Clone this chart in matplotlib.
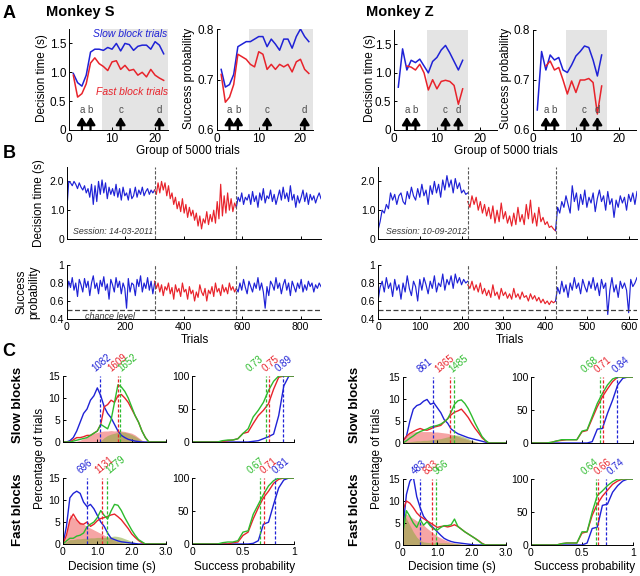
import numpy as np
import matplotlib
matplotlib.use("Agg")
import matplotlib.pyplot as plt
from matplotlib.transforms import blended_transform_factory

plt.rcParams["font.family"] = ["Liberation Sans", "DejaVu Sans"]

BLUE = "#1f22d6"
RED = "#e8232b"
GREEN = "#2dbb2d"
PINK = "#f6a5a5"
OLIVE = "#8aaa3c"
W, H = 640, 576

# ---------------- A: group of 5000 trials ----------------
groups_s = np.arange(1, 23)
s_dt_slow = [0.98, 0.82, 0.76, 0.95, 1.35, 1.40, 1.40, 1.38, 1.43, 1.40, 1.50, 1.37,
             1.50, 1.48, 1.38, 1.45, 1.47, 1.47, 1.40, 1.53, 1.47, 1.32]
s_dt_fast = [0.95, 0.57, 0.63, 0.80, 1.16, 1.25, 1.15, 1.10, 1.03, 1.18, 1.20, 1.05,
             1.12, 1.03, 1.05, 0.95, 1.00, 0.92, 1.05, 0.95, 0.90, 0.86]
s_sp_slow = [0.72, 0.685, 0.69, 0.71, 0.765, 0.77, 0.775, 0.775, 0.78, 0.785, 0.785, 0.765,
             0.78, 0.77, 0.758, 0.78, 0.78, 0.762, 0.785, 0.80, 0.785, 0.775]
s_sp_fast = [0.71, 0.655, 0.665, 0.69, 0.75, 0.745, 0.74, 0.73, 0.725, 0.755, 0.75, 0.72,
             0.73, 0.72, 0.73, 0.725, 0.73, 0.715, 0.735, 0.74, 0.72, 0.712]
s_arrows = [3, 5, 12, 21]

groups_z = np.arange(1, 17)
z_dt_slow = [0.75, 1.42, 1.05, 1.22, 1.18, 1.24, 1.12, 1.00, 1.20, 1.27, 1.40, 1.48,
             1.35, 1.20, 1.05, 1.22]
z_dt_fast = [np.nan, np.nan, 1.12, 1.10, 1.05, 1.15, 1.00, 0.70, 0.88, 0.72, 0.85, 0.87,
             0.85, 0.78, 0.45, 0.72]
z_sp_slow = [0.64, 0.757, 0.72, 0.75, 0.74, 0.745, 0.72, 0.715, 0.73, 0.748, 0.757, 0.768,
             0.765, 0.74, 0.708, 0.75]
z_sp_fast = [np.nan, np.nan, 0.728, 0.738, 0.72, 0.725, 0.70, 0.672, 0.698, 0.675, 0.70, 0.70,
             0.703, 0.695, 0.632, 0.688]
z_arrows = [3, 5, 12, 15]
arrow_letters = ["a", "b", "c", "d"]

# ---------------- B: single sessions ----------------
s_switch = [0, 300, 580, 870]
s_dt_b1 = [1.1, 2.0, 1.95, 1.85, 2.0, 1.9, 1.75, 1.95, 1.8, 1.7, 1.85, 1.6, 1.75, 1.45, 1.9, 1.2,
           1.85, 1.3, 2.0, 1.55, 2.05, 1.6, 1.95, 1.4, 1.8, 1.55, 1.75, 1.5, 1.9, 1.45, 1.75, 1.35,
           1.8, 1.5, 1.6, 1.35, 1.75, 1.4, 1.5, 1.8, 1.45, 1.7, 1.55, 1.8, 1.5, 1.65, 1.75, 1.55,
           1.7, 1.6, 1.7]
s_dt_b2 = [1.7, 1.55, 1.95, 1.6, 2.0, 1.7, 1.95, 1.5, 1.85, 1.4, 1.6, 1.2, 1.45, 1.05, 1.3, 0.95,
           1.4, 0.9, 1.2, 0.75, 1.1, 0.8, 1.0, 0.65, 0.9, 0.45, 0.8, 0.35, 0.7, 0.55, 0.95, 0.5,
           0.85, 0.6, 1.0, 0.55, 1.3, 0.7, 1.9, 0.8, 1.5, 0.9, 1.6, 1.0, 1.4, 0.95, 1.25, 1.1]
s_dt_b3 = [1.1, 1.45, 1.3, 1.6, 1.2, 1.45, 1.35, 1.55, 1.2, 1.65, 1.3, 1.5, 1.1, 1.6, 1.35, 1.75,
           1.25, 1.5, 1.4, 1.7, 1.3, 1.55, 1.2, 1.45, 1.7, 1.35, 1.8, 1.4, 1.6, 1.3, 1.85, 1.35,
           1.55, 1.1, 1.5, 1.25, 1.45, 1.7, 1.3, 1.6, 1.2, 1.55, 1.35, 1.5, 1.25, 1.45, 1.6, 1.4]
s_sp_b1 = [0.7, 0.82, 0.75, 0.86, 0.72, 0.8, 0.65, 0.84, 0.78, 0.7, 0.85, 0.75, 0.82, 0.66, 0.8,
           0.88, 0.74, 0.8, 0.68, 0.83, 0.76, 0.87, 0.72, 0.79, 0.62, 0.84, 0.78, 0.7, 0.86, 0.75,
           0.82, 0.68, 0.8, 0.74, 0.52, 0.85, 0.7, 0.8, 0.78, 0.66, 0.84, 0.76, 0.88, 0.7, 0.8,
           0.74, 0.86, 0.72, 0.82, 0.68, 0.8]
s_sp_b2 = [0.82, 0.74, 0.8, 0.7, 0.78, 0.66, 0.76, 0.72, 0.8, 0.68, 0.75, 0.62, 0.78, 0.7, 0.74,
           0.65, 0.8, 0.7, 0.73, 0.62, 0.76, 0.68, 0.72, 0.6, 0.7, 0.64, 0.78, 0.7, 0.66, 0.74,
           0.6, 0.72, 0.68, 0.76, 0.65, 0.8, 0.7, 0.74, 0.66, 0.78, 0.7, 0.75, 0.68, 0.8, 0.72,
           0.76, 0.7, 0.74]
s_sp_b3 = [0.74, 0.7, 0.8, 0.72, 0.84, 0.75, 0.68, 0.82, 0.76, 0.7, 0.8, 0.74, 0.86, 0.72, 0.8,
           0.7, 0.52, 0.76, 0.66, 0.82, 0.78, 0.72, 0.86, 0.74, 0.8, 0.68, 0.78, 0.84, 0.72, 0.8,
           0.66, 0.82, 0.76, 0.7, 0.8, 0.74, 0.84, 0.7, 0.78, 0.72, 0.82, 0.76, 0.8, 0.7, 0.78,
           0.74, 0.8, 0.76]

z_switch = [0, 215, 425, 620]
z_dt_b1 = [0.3, 0.6, 1.0, 0.9, 1.2, 1.05, 1.6, 1.35, 1.55, 1.2, 1.5, 1.6, 1.3, 1.2, 1.65, 1.4,
           1.8, 1.5, 1.35, 1.75, 1.45, 1.9, 1.5, 1.7, 1.2, 1.85, 1.55, 2.0, 1.6, 1.9, 1.45, 2.05,
           1.7, 2.2, 1.8, 2.05, 1.6, 2.1, 1.75, 1.95, 1.6, 1.7, 1.55, 1.6]
z_dt_b2 = [1.3, 1.1, 1.5, 1.2, 1.45, 1.0, 1.3, 0.9, 1.2, 0.8, 1.1, 0.7, 1.15, 0.55, 1.0, 0.6,
           1.25, 0.7, 0.95, 0.55, 0.8, 0.45, 0.9, 0.5, 1.1, 0.6, 0.85, 0.5, 1.2, 0.7, 1.35, 0.55,
           0.9, 0.45, 1.1, 0.6, 0.75, 0.5, 0.6, 0.4, 0.45, 0.35, 0.28]
z_dt_b3 = [0.3, 1.1, 0.9, 1.3, 1.1, 1.5, 1.2, 0.9, 1.85, 1.3, 1.6, 1.0, 1.55, 1.2, 1.7, 1.1,
           1.45, 1.25, 1.6, 0.95, 1.4, 1.7, 1.3, 1.5, 1.0, 1.65, 1.2, 1.4, 0.75, 1.35, 1.1, 1.5,
           1.25, 1.45, 1.0, 1.55, 1.3, 1.6, 1.2, 1.65]
z_sp_b1 = [0.6, 0.75, 0.82, 0.7, 0.86, 0.74, 0.8, 0.65, 0.84, 0.72, 0.78, 0.62, 0.8, 0.7, 0.88,
           0.74, 0.66, 0.82, 0.76, 0.6, 0.84, 0.72, 0.86, 0.78, 0.68, 0.82, 0.74, 0.88, 0.7, 0.8,
           0.76, 0.9, 0.72, 0.84, 0.78, 0.88, 0.74, 0.9, 0.8, 0.86, 0.78, 0.84, 0.8, 0.82]
z_sp_b2 = [0.78, 0.74, 0.82, 0.72, 0.78, 0.7, 0.8, 0.68, 0.74, 0.66, 0.72, 0.64, 0.78, 0.66, 0.7,
           0.62, 0.74, 0.66, 0.7, 0.63, 0.68, 0.62, 0.74, 0.64, 0.68, 0.62, 0.7, 0.64, 0.66, 0.6,
           0.68, 0.62, 0.66, 0.6, 0.64, 0.58, 0.62, 0.57, 0.6, 0.56, 0.6, 0.58, 0.6]
z_sp_b3 = [0.6, 0.75, 0.68, 0.82, 0.7, 0.78, 0.64, 0.8, 0.72, 0.86, 0.74, 0.8, 0.68, 0.84, 0.76,
           0.7, 0.82, 0.74, 0.86, 0.72, 0.8, 0.66, 0.84, 0.74, 0.8, 0.45, 0.72, 0.86, 0.7, 0.78,
           0.64, 0.82, 0.74, 0.8, 0.72, 0.47, 0.84, 0.76, 0.8, 0.86]

# ---------------- C: distributions ----------------
dt_bins = np.round(np.arange(0, 3.01, 0.1), 1)
sp_bins = np.round(np.arange(0, 1.001, 0.05), 2)

s_slow_dt_blue = [0, 0, 0.3, 1, 2.5, 4.5, 6.5, 7.5, 9.5, 10.5, 12.3, 10.5, 8, 6.5, 5.5, 4, 2.5,
                  1.5, 1, 0.6, 0.4, 0.2, 0.1]
s_slow_dt_red = [0, 0, 0, 0.5, 1, 1, 1.2, 1.5, 1.5, 2, 2.5, 4, 8, 8.5, 9.5, 9, 10.5, 10.8, 10,
                 9, 7.5, 6, 4.5, 2.5, 1, 0]
s_slow_dt_green = [0, 0, 0, 0.2, 0.4, 0.6, 0.8, 1, 1.5, 2, 2.5, 4, 3.5, 3, 5, 9, 13, 12.5, 11.5,
                   10, 8, 6, 4.5, 2.5, 1, 0]
s_slow_fill_red = [0, 0, 0, 0, 0.2, 0.4, 0.8, 1.2, 1.6, 2, 2.2, 2.4, 2.5, 2.5, 2.6, 2.5, 2.6,
                   2.5, 2.4, 2.2, 2, 1.6, 1, 0.4, 0.1, 0]
s_slow_fill_green = [0, 0, 0, 0, 0, 0, 0, 0, 0, 0, 0, 0.3, 1, 1.5, 1.8, 2, 2.2, 2.3, 2.2, 2, 1.7,
                     1.3, 0.8, 0.3, 0]
s_slow_dt_means = [1082, 1609, 1652]

s_fast_dt_blue = [0, 4, 10.5, 11.5, 12, 11.5, 9.5, 8.5, 9, 8, 6.5, 5, 4, 2.5, 1.3, 1, 0.7, 0.5,
                  0.4, 0.3, 0.2, 0.1, 0]
s_fast_dt_red = [0, 2, 5.5, 6.8, 5.5, 4.6, 4.5, 5, 4, 4.5, 5.3, 5.8, 6, 6.3, 6.6, 6.8, 6.2, 5.5,
                 4.5, 3.5, 2.3, 1.5, 0.8, 0.3, 0]
s_fast_dt_green = [0, 0.7, 1.3, 1.3, 1.8, 2, 2.5, 3.9, 4.5, 5, 6, 7.6, 6.5, 5.7, 7.5, 9, 8.8, 7.6,
                   6, 4.6, 3.2, 2, 1, 0.5, 0]
s_fast_fill_red = [0, 2, 6.7, 6, 5.5, 5, 4.5, 4, 3.6, 3.2, 2.8, 2.4, 2, 1.6, 1.2, 0.8, 0.5, 0.3,
                   0.1, 0]
s_fast_fill_green = [0, 0.5, 1, 1, 1.2, 1.2, 1.3, 1.3, 1.4, 1.4, 1.5, 1.5, 1.5, 1.6, 1.7, 1.8,
                     1.7, 1.5, 1.2, 0.9, 0.6, 0.3, 0.1, 0]
s_fast_dt_means = [696, 1131, 1279]

z_slow_dt_blue = [0.5, 1.5, 5, 7.7, 8.5, 8.8, 9.5, 9.9, 8.8, 9.1, 8, 6.9, 5.3, 4.5, 3.2, 2.6,
                  2.1, 1.8, 1.5, 1.2, 1, 0.8, 0.6, 0.4, 0.2, 0]
z_slow_dt_red = [0.5, 1.5, 2.2, 2.6, 3, 3.3, 3, 2.9, 3.2, 3.6, 3.8, 4, 4.8, 5.5, 6.4, 7, 7.3, 7.7,
                 6.8, 5.8, 4.5, 3.3, 2.3, 1.2, 0.5, 0]
z_slow_dt_green = [0, 0.5, 1.1, 1.6, 2.2, 2.6, 2.9, 3.2, 3.6, 3.8, 4, 4.3, 4.8, 5.5, 7, 8.8, 9.6,
                   9.8, 9, 7.8, 6.2, 4.5, 3, 1.5, 0.6, 0]
z_slow_fill_red = [0.5, 1.5, 2.3, 2.5, 2.6, 2.6, 2.6, 2.6, 2.6, 2.5, 2.5, 2.4, 2.3, 2.2, 2, 1.8,
                   1.5, 1.2, 1, 0.7, 0.5, 0.3, 0.1, 0]
z_slow_fill_green = [0, 0.2, 0.3, 0.4, 0.5, 0.5, 0.6, 0.6, 0.7, 0.8, 0.9, 1, 1.2, 1.4, 1.6, 1.8,
                     1.8, 1.6, 1.3, 1, 0.6, 0.3, 0.1, 0]
z_slow_dt_means = [861, 1365, 1485]

z_fast_dt_blue = [4, 11.5, 14.5, 15.5, 11, 8.5, 6.5, 5.5, 4.5, 3.8, 3, 2.2, 1.5, 1.1, 0.8, 0.6,
                  0.5, 0.4, 0.3, 0.2, 0.1, 0]
z_fast_dt_red = [8, 10, 9.5, 8.5, 7.3, 6.5, 6, 5.5, 5, 4.5, 4, 4.2, 4.3, 4.1, 4.3, 4.6, 4.2, 3.6,
                 3, 2.5, 2, 1.5, 1, 0.4, 0]
z_fast_dt_green = [3, 7.8, 6.5, 5, 4, 5.8, 4.5, 5.3, 4.3, 3.6, 3.4, 4, 4.4, 4.4, 4.6, 5.9, 4.2,
                   3.6, 3, 2.5, 2, 1.5, 0.9, 0.3, 0]
z_fast_fill_red = [7.5, 7, 6.5, 6, 5.5, 5, 4.5, 3.8, 3.2, 2.6, 2, 1.6, 1.2, 0.9, 0.6, 0.4, 0.3,
                   0.2, 0.1, 0]
z_fast_fill_green = [7.5, 6, 4.5, 3, 1.8, 1, 0.7, 0.6, 0.5, 0.5, 0.5, 0.5, 0.5, 0.5, 0.4, 0.4,
                     0.3, 0.2, 0.1, 0]
z_fast_dt_means = [483, 833, 966]

s_slow_sp_blue = [0, 0, 0, 0, 0, 0, 0, 0, 0, 0, 0, 0, 1, 2, 5, 8, 12, 40, 85, 100, 100]
s_slow_sp_red = [0, 0, 0, 0, 0, 0, 1, 2, 3, 5, 13, 15, 28, 40, 48, 58, 80, 98, 100, 100, 100]
s_slow_sp_green = [0, 0, 0, 0, 0, 0, 2, 3, 3, 5, 13, 20, 38, 48, 60, 78, 92, 100, 100, 100, 100]
s_slow_sp_means = [0.89, 0.75, 0.73]

s_fast_sp_blue = [0, 0, 0, 0, 0, 0, 0, 0, 0, 0, 0, 0, 1, 5, 30, 33, 60, 85, 97, 100, 100]
s_fast_sp_red = [0, 0, 0, 0, 0, 0, 0, 0, 2, 3, 13, 18, 38, 55, 70, 80, 92, 98, 100, 100, 100]
s_fast_sp_green = [0, 0, 0, 0, 0, 0, 2, 3, 3, 5, 18, 20, 45, 60, 75, 88, 96, 100, 100, 100, 100]
s_fast_sp_means = [0.81, 0.71, 0.67]

z_slow_sp_blue = [0, 0, 0, 0, 0, 0, 0, 0, 0, 0, 0, 0, 2, 21, 22, 45, 65, 88, 98, 100, 100]
z_slow_sp_red = [0, 0, 0, 0, 1, 3, 4, 5, 5, 5, 17, 19, 37, 55, 70, 82, 93, 100, 100, 100, 100]
z_slow_sp_green = [0, 0, 0, 0, 1, 3, 5, 5, 5, 5, 18, 20, 40, 60, 75, 88, 97, 100, 100, 100, 100]
z_slow_sp_means = [0.84, 0.71, 0.68]

z_fast_sp_blue = [0, 0, 0, 0, 0, 0, 0, 0, 0, 0, 0, 3, 25, 27, 60, 62, 80, 90, 97, 100, 100]
z_fast_sp_red = [0, 0, 0, 0, 0, 0, 2, 3, 3, 3, 18, 20, 45, 62, 74, 83, 92, 97, 100, 100, 100]
z_fast_sp_green = [0, 0, 0, 0, 0, 0, 2, 3, 3, 3, 20, 20, 50, 75, 82, 90, 96, 100, 100, 100, 100]
z_fast_sp_means = [0.74, 0.66, 0.64]


def pad(v, n):
    return np.array(list(v) + [0] * (n - len(v)), dtype=float)


fig = plt.figure(figsize=(6.4, 5.76), dpi=100)
fig.patch.set_facecolor("white")


def add_ax(l, t, r, b):
    ax = fig.add_axes([l / W, 1 - b / H, (r - l) / W, (b - t) / H])
    ax.spines[["top", "right"]].set_visible(False)
    for s in ("left", "bottom"):
        ax.spines[s].set_linewidth(0.7)
    ax.tick_params(direction="in", length=2.5, width=0.7, labelsize=7.5, pad=2)
    ax.patch.set_alpha(0)
    return ax


def ftext(x, y, s, **kw):
    fig.text(x / W, 1 - y / H, s, **kw)


def draw_arrows(ax, positions):
    trans = blended_transform_factory(ax.transData, ax.transAxes)
    for letter, p in zip(arrow_letters, positions):
        ax.annotate("", xy=(p, 0.13), xytext=(p, 0.0), xycoords=trans, textcoords=trans,
                    arrowprops=dict(arrowstyle="-|>,head_length=0.45,head_width=0.28",
                                    color="k", lw=1.6, shrinkA=0, shrinkB=0))
        ax.text(p, 0.2, letter, transform=trans, ha="center", va="center",
                fontsize=7, color="0.3")


def panel_a(rect, x, slow, fast, ylim, yticks, yticklabels, xmax, shade, arrows):
    ax = add_ax(*rect)
    ax.axvspan(shade[0], shade[1], color="#e4e4e4", lw=0, zorder=0)
    ax.plot(x, slow, color=BLUE, lw=1.1)
    ax.plot(x, fast, color=RED, lw=1.1)
    ax.set_xlim(0, xmax)
    ax.set_ylim(*ylim)
    ax.set_xticks([0, 10, 20])
    ax.set_yticks(yticks)
    ax.set_yticklabels(yticklabels)
    ax.tick_params(labelsize=8.5)
    draw_arrows(ax, arrows)
    return ax


# ---- A
dt_ticks = [0, 0.5, 1.0, 1.5]
dt_labels = ["0", "0.5", "1.0", "1.5"]
sp_ticks = [0.6, 0.7, 0.8]
sp_labels = ["0.6", "0.7", "0.8"]
ax = panel_a((69, 29, 168, 130), groups_s, s_dt_slow, s_dt_fast, (0, 1.75), dt_ticks,
             dt_labels, 23, (7.6, 23), s_arrows)
ax.text(0.99, 0.95, "Slow block trials", transform=ax.transAxes, ha="right", va="center",
        color=BLUE, style="italic", fontsize=7.5)
ax.text(1.0, 0.38, "Fast block trials", transform=ax.transAxes, ha="right", va="center",
        color=RED, style="italic", fontsize=7.5)
panel_a((217, 29, 313, 130), groups_s, s_sp_slow, s_sp_fast, (0.6, 0.8), sp_ticks,
        sp_labels, 23, (7.6, 23), s_arrows)
panel_a((394, 30, 497, 130), groups_z, z_dt_slow, z_dt_fast, (0, 1.75), dt_ticks,
        dt_labels, 24, (7.6, 17.2), z_arrows)
panel_a((533, 30, 636, 130), groups_z, z_sp_slow, z_sp_fast, (0.6, 0.8), sp_ticks,
        sp_labels, 24, (7.6, 17.2), z_arrows)

for x in (42, 370):
    ftext(x, 78, "Decision time (s)", rotation=90, ha="center", va="center", fontsize=8.5)
for x in (189, 506):
    ftext(x, 78, "Success probability", rotation=90, ha="center", va="center", fontsize=8.5)
ftext(188, 151, "Group of 5000 trials", ha="center", va="center", fontsize=8.5)
ftext(506, 151, "Group of 5000 trials", ha="center", va="center", fontsize=8.5)
ftext(80, 12, "Monkey S", ha="center", va="center", fontsize=10.5, weight="bold")
ftext(400, 12, "Monkey Z", ha="center", va="center", fontsize=10.5, weight="bold")


# ---- B
def panel_b(rect, blocks, switches, ylim, yticks, yticklabels, xticks, show_x):
    ax = add_ax(*rect)
    cols = [BLUE, RED, BLUE]
    for i, vals in enumerate(blocks):
        xs = np.linspace(switches[i], switches[i + 1], len(vals))
        ax.plot(xs, vals, color=cols[i], lw=0.85)
    for sw in switches[1:3]:
        ax.axvline(sw, color="0.35", lw=0.8, ls="--", dashes=(3, 1.5))
    ax.set_xlim(0, switches[-1])
    ax.set_ylim(*ylim)
    ax.set_yticks(yticks)
    ax.set_yticklabels(yticklabels)
    ax.set_xticks(xticks)
    if not show_x:
        ax.set_xticklabels([])
    return ax


s_xt = [0, 200, 400, 600, 800]
z_xt = [0, 100, 200, 300, 400, 500, 600]
ax = panel_b((67, 167, 321, 239), [s_dt_b1, s_dt_b2, s_dt_b3], s_switch, (0, 2.5),
             [0, 1, 2], ["0", "1.0", "2.0"], s_xt, False)
ax.text(0.025, 0.1, "Session: 14-03-2011", transform=ax.transAxes, style="italic",
        fontsize=6.3, color="0.2", va="center")
ax = panel_b((67, 265, 321, 319), [s_sp_b1, s_sp_b2, s_sp_b3], s_switch, (0.4, 1.0),
             [0.4, 0.6, 0.8, 1.0], ["0.4", "0.6", "0.8", "1"], s_xt, True)
ax.axhline(0.5, color="0.25", lw=0.9, ls="--", dashes=(4, 2))
ax.text(0.07, 0.05, "chance level", transform=ax.transAxes, style="italic", fontsize=6.5,
        color="0.2", va="center")
ax = panel_b((378, 167, 637, 239), [z_dt_b1, z_dt_b2, z_dt_b3], z_switch, (0, 2.5),
             [0, 1, 2], ["0", "1.0", "2.0"], z_xt, False)
ax.text(0.03, 0.1, "Session: 10-09-2012", transform=ax.transAxes, style="italic",
        fontsize=6.3, color="0.2", va="center")
ax = panel_b((378, 265, 637, 319), [z_sp_b1, z_sp_b2, z_sp_b3], z_switch, (0.4, 1.0),
             [0.4, 0.6, 0.8, 1.0], ["0.4", "0.6", "0.8", "1"], z_xt, True)
ax.axhline(0.5, color="0.25", lw=0.9, ls="--", dashes=(4, 2))

ftext(39, 203, "Decision time (s)", rotation=90, ha="center", va="center", fontsize=8.5)
ftext(28, 292, "Success\nprobability", rotation=90, ha="center", va="center", fontsize=8.5,
      linespacing=1.1)
ftext(195, 340, "Trials", ha="center", va="center", fontsize=8.5)
ftext(510, 340, "Trials", ha="center", va="center", fontsize=8.5)

# ---- C
COLS = (BLUE, RED, GREEN)


def panel_c_dt(rect, curves, fills, means, label_x, show_x):
    ax = add_ax(*rect)
    n = len(dt_bins)
    ax.fill_between(dt_bins, pad(fills[0], n), color=PINK, lw=0)
    ax.fill_between(dt_bins, pad(fills[1], n), color=OLIVE, alpha=0.55, lw=0)
    for vals, col in zip(curves, COLS):
        ax.plot(dt_bins, pad(vals, n), color=col, lw=1)
    for m, col, lx in zip(means, COLS, label_x):
        ax.plot([m / 1000] * 2, [0, 15], color=col, lw=0.9, ls="--", dashes=(2.5, 1.5))
        ax.text(lx, 15.6, str(m), rotation=40, rotation_mode="anchor", ha="left",
                va="bottom", color=col, fontsize=7)
    ax.set_xlim(0, 3)
    ax.set_ylim(0, 15)
    ax.set_yticks([0, 5, 10, 15])
    ax.set_xticks([0, 1, 2, 3])
    ax.set_xticklabels(["0", "1.0", "2.0", "3.0"] if show_x else [])
    return ax


def panel_c_sp(rect, curves, means, label_x, show_x):
    ax = add_ax(*rect)
    for vals, col in zip(curves, COLS):
        ax.plot(sp_bins, vals, color=col, lw=1)
    for m, col, lx in zip(means, COLS, label_x):
        ax.plot([m] * 2, [0, 100], color=col, lw=0.9, ls="--", dashes=(2.5, 1.5))
        ax.text(lx, 104, f"{m:.2f}", rotation=40, rotation_mode="anchor", ha="left",
                va="bottom", color=col, fontsize=7)
    ax.set_xlim(0, 1)
    ax.set_ylim(0, 100)
    ax.set_yticks([0, 50, 100])
    ax.set_xticks([0, 0.5, 1])
    ax.set_xticklabels(["0", "0.5", "1"] if show_x else [])
    return ax


panel_c_dt((63, 376, 166, 442), [s_slow_dt_blue, s_slow_dt_red, s_slow_dt_green],
           [s_slow_fill_red, s_slow_fill_green], s_slow_dt_means, [0.97, 1.45, 1.74], False)
panel_c_dt((63, 478, 166, 544), [s_fast_dt_blue, s_fast_dt_red, s_fast_dt_green],
           [s_fast_fill_red, s_fast_fill_green], s_fast_dt_means, [0.55, 1.08, 1.38], True)
panel_c_sp((192, 376, 294, 442), [s_slow_sp_blue, s_slow_sp_red, s_slow_sp_green],
           s_slow_sp_means, [0.86, 0.73, 0.58], False)
panel_c_sp((192, 478, 294, 544), [s_fast_sp_blue, s_fast_sp_red, s_fast_sp_green],
           s_fast_sp_means, [0.83, 0.71, 0.59], True)
panel_c_dt((403, 377, 506, 443), [z_slow_dt_blue, z_slow_dt_red, z_slow_dt_green],
           [z_slow_fill_red, z_slow_fill_green], z_slow_dt_means, [0.54, 1.07, 1.46], False)
panel_c_dt((403, 479, 506, 545), [z_fast_dt_blue, z_fast_dt_red, z_fast_dt_green],
           [z_fast_fill_red, z_fast_fill_green], z_fast_dt_means, [0.39, 0.73, 1.02], True)
panel_c_sp((531, 377, 633, 443), [z_slow_sp_blue, z_slow_sp_red, z_slow_sp_green],
           z_slow_sp_means, [0.84, 0.67, 0.54], False)
panel_c_sp((531, 479, 633, 545), [z_fast_sp_blue, z_fast_sp_red, z_fast_sp_green],
           z_fast_sp_means, [0.79, 0.67, 0.54], True)

for x in (18, 355):
    ftext(x, 405, "Slow blocks", rotation=90, ha="center", va="center", fontsize=9.5,
          weight="bold")
    ftext(x, 510, "Fast blocks", rotation=90, ha="center", va="center", fontsize=9.5,
          weight="bold")
ftext(40, 458, "Percentage of trials", rotation=90, ha="center", va="center", fontsize=8.5)
ftext(377, 458, "Percentage of trials", rotation=90, ha="center", va="center", fontsize=8.5)
for x0 in (0, 340):
    ftext(x0 + 112, 567, "Decision time (s)", ha="center", va="center", fontsize=8.5)
    ftext(x0 + 245, 567, "Success probability", ha="center", va="center", fontsize=8.5)

for letter, y in (("A", 13), ("B", 154), ("C", 352)):
    ftext(9, y, letter, ha="center", va="center", fontsize=13, weight="bold")

fig.savefig("out.png", dpi=100)
